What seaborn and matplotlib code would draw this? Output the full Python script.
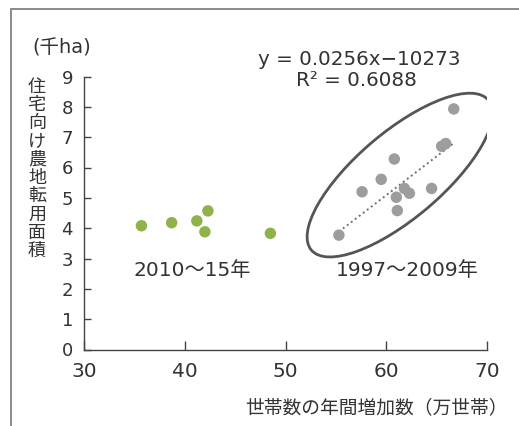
import numpy as np
import pandas as pd
import matplotlib
matplotlib.use("Agg")
import matplotlib.pyplot as plt
import seaborn as sns
from matplotlib.patches import Ellipse
from matplotlib.lines import Line2D
from matplotlib.transforms import ScaledTranslation

# Annual household increase (10k households) vs. farmland converted for housing (1000 ha)
x_1997_2009 = [55.3, 57.6, 59.5, 60.8, 61.0, 61.1, 61.8, 62.3, 64.5, 65.5, 65.9, 66.7]
y_1997_2009 = [3.77, 5.20, 5.61, 6.28, 5.02, 4.58, 5.31, 5.15, 5.31, 6.70, 6.79, 7.93]
x_2010_15 = [35.7, 38.7, 41.2, 42.3, 42.0, 48.5]
y_2010_15 = [4.08, 4.18, 4.24, 4.57, 3.88, 3.83]

period_labels = ["1997～2009年", "2010～15年"]
x_ticks = [30, 40, 50, 60, 70]
y_ticks = [0, 1, 2, 3, 4, 5, 6, 7, 8, 9]

# Trend fitted over 1997-2009 (ha per household)
slope_ha, intercept_ha = 0.0256, -10273
r_squared = 0.6088

df = pd.DataFrame({
    "households": x_1997_2009 + x_2010_15,
    "area": y_1997_2009 + y_2010_15,
    "period": [period_labels[0]] * len(x_1997_2009) + [period_labels[1]] * len(x_2010_15),
})

sns.set_theme(style="white")
plt.rcParams["font.family"] = ["DejaVu Sans", "Noto Sans CJK JP"]
TXT = "#333333"

W, H = 519, 426
fig = plt.figure(figsize=(W / 100, H / 100), dpi=100)
ax = fig.add_axes([84 / W, 1 - 349.5 / H, 403 / W, 273 / H])

sns.scatterplot(data=df, x="households", y="area", hue="period",
                palette={period_labels[0]: "#9d9d9d", period_labels[1]: "#8fb24a"},
                s=68, linewidth=0, legend=False, ax=ax, zorder=3)

# Dotted trend line from the stated equation (converted to 10k households / 1000 ha)
xs = np.array([min(x_1997_2009), max(x_1997_2009)])
ys = (slope_ha * xs * 1e4 + intercept_ha) / 1000
ax.plot(xs, ys, linestyle=(0, (1, 1.6)), color="#707070", lw=1.4, zorder=2)

ax.set_xlim(30, 70)
ax.set_ylim(0, 9)
ax.set_xticks(x_ticks)
ax.set_yticks(y_ticks)
ax.set_xlabel("")
ax.set_ylabel("")
for side in ["top", "right"]:
    ax.spines[side].set_visible(False)
for side in ["left", "bottom"]:
    ax.spines[side].set_color("#444444")
    ax.spines[side].set_linewidth(1.0)
ax.tick_params(axis="x", direction="in", length=6.5, width=1.0, color="#444444",
               labelsize=14.5, labelcolor=TXT, pad=9, bottom=True)
ax.tick_params(axis="y", direction="in", length=5, width=1.0, color="#444444",
               labelsize=13, labelcolor=TXT, pad=8, left=True)

# Ellipse around the 1997-2009 cluster
center = ScaledTranslation(61.35, 5.75, ax.transData)
ell = Ellipse((0, 0), width=2 * 1.16, height=2 * 0.43, angle=40.3,
              transform=fig.dpi_scale_trans + center,
              fill=False, edgecolor="#555555", lw=2.0, zorder=4)
ax.add_patch(ell)

def ftext(px, py, s, **kw):
    fig.text(px / W, 1 - py / H, s, **kw)

ftext(359, 59.5, "y = 0.0256x\u221210273", ha="center", va="center", fontsize=14.3, color=TXT)
ftext(356, 80, f"R\u00b2 = {r_squared}", ha="center", va="center", fontsize=14.3, color=TXT)
ftext(192, 271, period_labels[1], ha="center", va="center", fontsize=14.5, color=TXT)
ftext(407, 271, period_labels[0], ha="center", va="center", fontsize=14.5, color=TXT)
ftext(62, 48, "(千ha)", ha="center", va="center", fontsize=14, color=TXT)
ftext(37, 169, "\n".join("住宅向け農地転用面積"), ha="center", va="center",
      fontsize=13, linespacing=1.015, color=TXT)
ftext(508, 408, "世帯数の年間増加数（万世帯）", ha="right", va="center",
      fontsize=13.5, color=TXT)

# Panel frame (left and top edges)
fig.add_artist(Line2D([11 / W, 11 / W], [0, 1 - 9 / H], transform=fig.transFigure,
                      color="#8a8a8a", lw=1.4))
fig.add_artist(Line2D([11 / W, 1], [1 - 9 / H, 1 - 9 / H], transform=fig.transFigure,
                      color="#8a8a8a", lw=1.4))

fig.savefig("out.png", dpi=100, facecolor="white")
